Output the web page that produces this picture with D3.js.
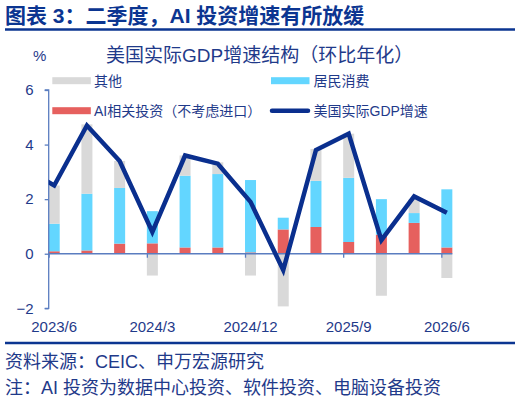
<!DOCTYPE html>
<html>
<head>
<meta charset="utf-8">
<script src="https://cdn.jsdelivr.net/npm/d3@7/dist/d3.min.js"></script>
<style>
  html, body { margin: 0; padding: 0; background: #fff; }
  svg { display: block; }
  text { font-family: "Liberation Sans", Arial, "Noto Sans CJK SC", sans-serif; }
</style>
</head>
<body>
<svg id="chart" width="520" height="416"></svg>
<script>
// ---- data ----
const categories = ["2023/6","2023/9","2023/12","2024/3","2024/6","2024/9","2024/12",
                    "2025/3","2025/6","2025/9","2025/12","2026/3","2026/6"];
const aiInvest    = [0.09, 0.12, 0.37, 0.38, 0.23, 0.23, 0.05, 0.89, 0.98, 0.43, 0.70, 1.13, 0.23];
const consumption = [1.01, 2.08, 2.04, 1.18, 2.63, 2.69, 2.65, 0.43, 1.69, 2.35, 1.30, 0.36, 2.13];
const other       = [1.40, 2.54, 0.99, -0.80, 0.74, 0.43, -0.80, -1.93, 1.17, 1.62, -1.54, 0.51, -0.89];
const gdp         = [2.5, 4.7, 3.4, 0.8, 3.6, 3.3, 1.9, -0.6, 3.8, 4.4, 0.5, 2.1, 1.5];
const gdpPrevCategory = "2023/3";
const gdpPrev = 3.2;   // previous quarter, only visible as clipped stub
const yTicks = [-2, 0, 2, 4, 6];
const xTickLabels = ["2023/6","2024/3","2024/12","2025/9","2026/6"];

const titleText = "图表 3：二季度，AI 投资增速有所放缓";
const subTitle = "美国实际GDP增速结构（环比年化）";
const unitText = "%";
const legendNames = {other:"其他", consumption:"居民消费", ai:"AI相关投资（不考虑进口）", gdp:"美国实际GDP增速"};
const sourceText = "资料来源：CEIC、申万宏源研究";
const noteText = "注：AI 投资为数据中心投资、软件投资、电脑设备投资";

// ---- styles ----
const C = {
  navy: "#0B3591", text: "#1F3A8A", axis: "#5A7DC0",
  gray: "#D9D9D9", blue: "#63D6FF", red: "#E6605E", line: "#0A2F8E"
};
const barW = 11;

const svg = d3.select("#chart");

// ---- scales ----
const step = 32.72;
const x0 = 48.7;
const xBand = d3.scaleBand().domain(categories)
  .range([x0, x0 + step * categories.length]).paddingInner(0).paddingOuter(0);
const y = d3.scaleLinear().domain([-2, 6]).range([308.3, 90]);
const xc = c => (c === gdpPrevCategory ? xBand(categories[0]) - step : xBand(c)) + barW / 2;

// ---- title ----
svg.append("text").attr("x", 5).attr("y", 23)
  .attr("font-size", 21).attr("font-weight", "bold").attr("fill", C.navy)
  .text(titleText);
svg.append("line").attr("x1", 5).attr("x2", 515).attr("y1", 29.5).attr("y2", 29.5)
  .attr("stroke", C.navy).attr("stroke-width", 2.5);

// subtitle & unit
svg.append("text").attr("x", 106).attr("y", 62.2).attr("font-size", 19).attr("fill", C.text).text(subTitle);
svg.append("text").attr("x", 33).attr("y", 60.5).attr("font-size", 15).attr("fill", C.text).text(unitText);

// ---- stacked bars ----
const rows = categories.map((c, i) => ({cat: c, ai: aiInvest[i], consumption: consumption[i], other: other[i]}));
const stack = d3.stack().keys(["ai", "consumption", "other"]).offset(d3.stackOffsetDiverging);
const series = stack(rows);
const colorOf = {ai: C.red, consumption: C.blue, other: C.gray};

const gBars = svg.append("g");
series.forEach(s => {
  gBars.append("g").attr("fill", colorOf[s.key])
    .selectAll("rect").data(s).join("rect")
    .attr("x", d => xBand(d.data.cat))
    .attr("width", barW)
    .attr("y", d => y(Math.max(d[0], d[1])))
    .attr("height", d => Math.abs(y(d[0]) - y(d[1])));
});

// ---- axes ----
// y axis
const yAxis = svg.append("g").attr("transform", `translate(${x0},0)`)
  .call(d3.axisLeft(y).tickValues(yTicks).tickSize(4).tickPadding(11).tickFormat(d3.format("d")));
yAxis.select(".domain").attr("stroke", C.axis).attr("stroke-width", 1.3).attr("d", `M-4,${y(6)}H0V${y(-2)}H-4`);
yAxis.selectAll(".tick line").attr("stroke", C.axis).attr("stroke-width", 1.3);
yAxis.selectAll(".tick text").attr("fill", C.text).attr("font-size", 15)
  .attr("font-family", '"Liberation Sans", Arial, sans-serif');

// x axis at zero
const xTickScale = d3.scalePoint().domain(categories)
  .range([x0, x0 + step * (categories.length - 1)]);
const xAxis = svg.append("g").attr("transform", `translate(0,${y(0)})`)
  .call(d3.axisBottom(xTickScale).tickValues(xTickLabels).tickSize(4).tickFormat(""));
xAxis.select(".domain").attr("stroke", C.axis).attr("stroke-width", 1.3)
  .attr("d", `M${x0},0H${xBand(categories[categories.length - 1]) + barW}`);
xAxis.selectAll(".tick line").attr("stroke", C.axis).attr("stroke-width", 1.3);

// x labels at the bottom
svg.append("g").selectAll("text").data(xTickLabels).join("text")
  .attr("x", d => xBand(d) + barW / 2).attr("y", 331.5)
  .attr("text-anchor", "middle").attr("font-size", 15).attr("fill", C.text)
  .attr("font-family", '"Liberation Sans", Arial, sans-serif')
  .text(d => d);

// ---- GDP line ----
svg.append("clipPath").attr("id", "plotclip").append("rect")
  .attr("x", x0).attr("y", 60).attr("width", 440).attr("height", 270);
const lineData = [{cat: gdpPrevCategory, v: gdpPrev}].concat(categories.map((c, i) => ({cat: c, v: gdp[i]})));
svg.append("path").datum(lineData)
  .attr("clip-path", "url(#plotclip)")
  .attr("fill", "none").attr("stroke", C.line).attr("stroke-width", 4.5)
  .attr("stroke-linejoin", "miter").attr("stroke-miterlimit", 4)
  .attr("d", d3.line().x(d => xc(d.cat)).y(d => y(d.v)));

// ---- legend ----
const lg = svg.append("g").attr("font-size", 14).attr("fill", C.text);
function swatch(xx, yy, color) {
  lg.append("rect").attr("x", xx).attr("y", yy - 3.5).attr("width", 38.5).attr("height", 7).attr("fill", color);
}
swatch(52.3, 80.7, C.gray);
lg.append("text").attr("x", 94).attr("y", 86).text(legendNames.other);
swatch(271, 80.7, C.blue);
lg.append("text").attr("x", 313.5).attr("y", 86).text(legendNames.consumption);
swatch(52.3, 110.7, C.red);
lg.append("text").attr("x", 94).attr("y", 116).text(legendNames.ai);
lg.append("line").attr("x1", 272).attr("x2", 308).attr("y1", 110.7).attr("y2", 110.7)
  .attr("stroke", C.line).attr("stroke-width", 4.5).attr("stroke-linecap", "round");
lg.append("text").attr("x", 313.5).attr("y", 116).text(legendNames.gdp);

// ---- footer ----
svg.append("line").attr("x1", 5).attr("x2", 515).attr("y1", 343).attr("y2", 343)
  .attr("stroke", C.navy).attr("stroke-width", 2.5);
svg.append("text").attr("x", 5).attr("y", 368).attr("font-size", 18).attr("fill", C.text).text(sourceText);
svg.append("text").attr("x", 5).attr("y", 394).attr("font-size", 18).attr("fill", C.text).text(noteText);
</script>
</body>
</html>
